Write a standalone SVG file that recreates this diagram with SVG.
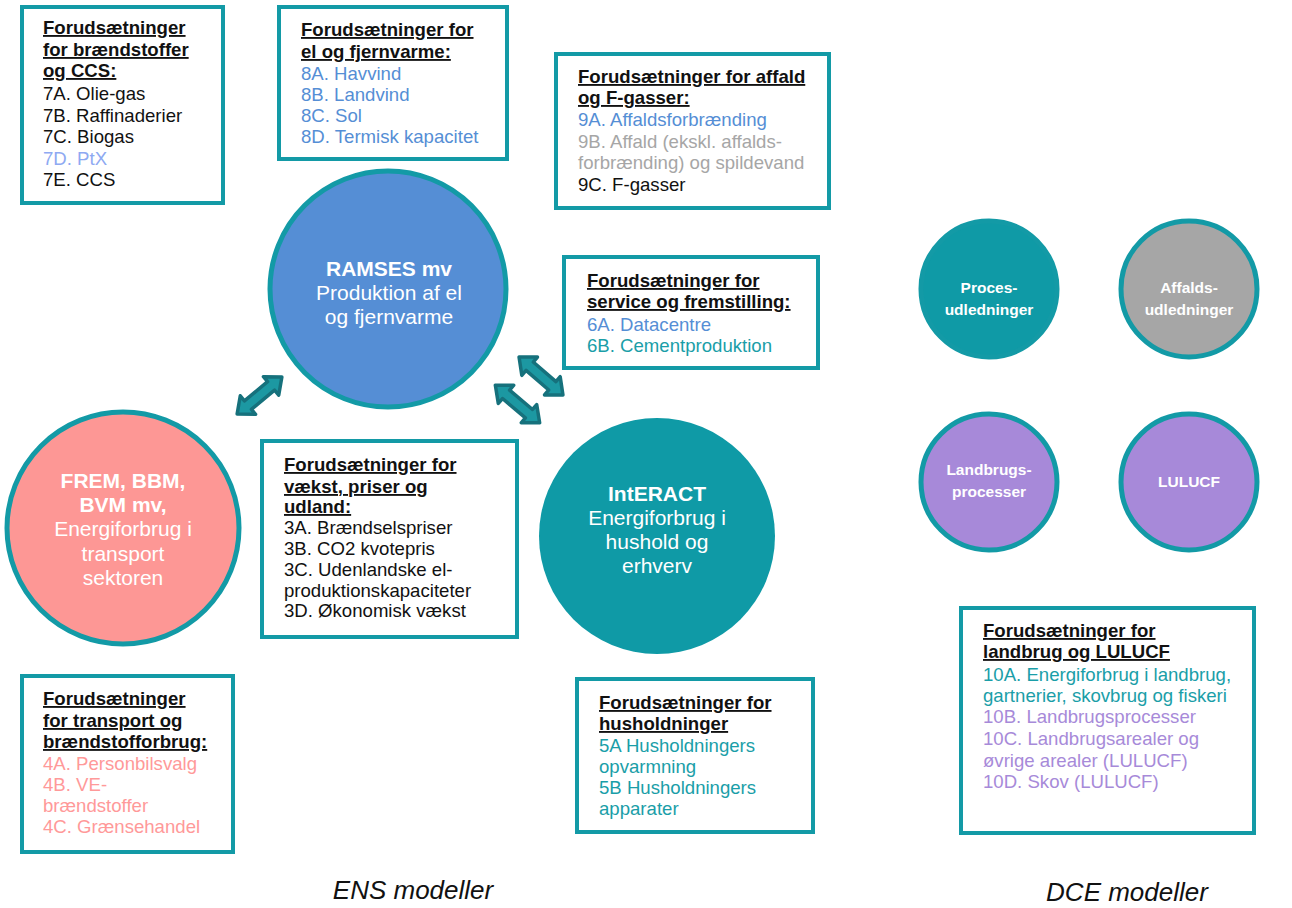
<svg xmlns="http://www.w3.org/2000/svg" width="1292" height="908" viewBox="0 0 1292 908">
<defs>
<style>
.box{fill:#fff;stroke:#139aa6;stroke-width:4}
.t{font-family:"Liberation Sans",Arial,sans-serif;font-size:18.6px;fill:#111}
.h{font-weight:bold;text-decoration:underline}
.blue{fill:#558ed5}
.lblue{fill:#8ea9f2}
.grey{fill:#a6a6a6}
.teal{fill:#1a9ea8}
.pink{fill:#ff9999}
.purple{fill:#a78ad9}
.ct{font-family:"Liberation Sans",Arial,sans-serif;font-size:21px;fill:#fff;text-anchor:middle}
.dt{font-family:"Liberation Sans",Arial,sans-serif;font-size:15.5px;fill:#fff;text-anchor:middle;font-weight:bold}
.b{font-weight:bold}
.circ{stroke:#139aa6;stroke-width:5}
.arr{fill:#1c98a2;stroke:#16717c;stroke-width:3.5;stroke-linejoin:round}
.cap{font-family:"Liberation Sans",Arial,sans-serif;font-size:26px;font-style:italic;fill:#111;text-anchor:middle}
</style>
<polygon id="dbl" class="arr" points="-29,0 -15,-12 -15,-5.5 15,-5.5 15,-12 29,0 15,12 15,5.5 -15,5.5 -15,12"/>
</defs>
<rect width="1292" height="908" fill="#fff"/>

<g id="box-fuels">
<rect class="box" x="22" y="7" width="201" height="196"/>
<text class="t"><tspan class="h" x="43" y="34">Forudsætninger</tspan><tspan class="h" x="43" y="56">for brændstoffer</tspan><tspan class="h" x="43" y="77">og CCS:</tspan><tspan x="43" y="100">7A. Olie-gas</tspan><tspan x="43" y="122">7B. Raffinaderier</tspan><tspan x="43" y="143">7C. Biogas</tspan><tspan class="lblue" x="43" y="165">7D. PtX</tspan><tspan x="43" y="186">7E. CCS</tspan></text>
</g>

<g id="box-el">
<rect class="box" x="279" y="7" width="228" height="152"/>
<text class="t"><tspan class="h" x="301" y="36">Forudsætninger for</tspan><tspan class="h" x="301" y="58">el og fjernvarme:</tspan><tspan class="blue" x="301" y="80">8A. Havvind</tspan><tspan class="blue" x="301" y="101">8B. Landvind</tspan><tspan class="blue" x="301" y="122">8C. Sol</tspan><tspan class="blue" x="301" y="143">8D. Termisk kapacitet</tspan></text>
</g>

<g id="box-affald">
<rect class="box" x="556" y="54" width="273" height="154"/>
<text class="t"><tspan class="h" x="578" y="83">Forudsætninger for affald</tspan><tspan class="h" x="578" y="104">og F-gasser:</tspan><tspan class="blue" x="578" y="126">9A. Affaldsforbrænding</tspan><tspan class="grey" x="578" y="148">9B. Affald (ekskl. affalds-</tspan><tspan class="grey" x="578" y="169">forbrænding) og spildevand</tspan><tspan x="578" y="191">9C. F-gasser</tspan></text>
</g>

<g id="box-service">
<rect class="box" x="564" y="257" width="254" height="111"/>
<text class="t"><tspan class="h" x="587" y="287">Forudsætninger for</tspan><tspan class="h" x="587" y="308">service og fremstilling:</tspan><tspan class="blue" x="587" y="331">6A. Datacentre</tspan><tspan class="teal" x="587" y="352">6B. Cementproduktion</tspan></text>
</g>

<g id="box-vaekst">
<rect class="box" x="262" y="441" width="255" height="196"/>
<text class="t"><tspan class="h" x="284" y="471">Forudsætninger for</tspan><tspan class="h" x="284" y="493">vækst, priser og</tspan><tspan class="h" x="284" y="513">udland:</tspan><tspan x="284" y="534">3A. Brændselspriser</tspan><tspan x="284" y="555">3B. CO2 kvotepris</tspan><tspan x="284" y="576">3C. Udenlandske el-</tspan><tspan x="284" y="597">produktionskapaciteter</tspan><tspan x="284" y="617">3D. Økonomisk vækst</tspan></text>
</g>

<g id="box-transport">
<rect class="box" x="22" y="676" width="211" height="176"/>
<text class="t"><tspan class="h" x="43" y="705">Forudsætninger</tspan><tspan class="h" x="43" y="727">for transport og</tspan><tspan class="h" x="43" y="748">brændstofforbrug:</tspan><tspan class="pink" x="43" y="770">4A. Personbilsvalg</tspan><tspan class="pink" x="43" y="791">4B. VE-</tspan><tspan class="pink" x="43" y="812">brændstoffer</tspan><tspan class="pink" x="43" y="833">4C. Grænsehandel</tspan></text>
</g>

<g id="box-husholdninger">
<rect class="box" x="577" y="679" width="236" height="153"/>
<text class="t"><tspan class="h" x="599" y="709">Forudsætninger for</tspan><tspan class="h" x="599" y="730">husholdninger</tspan><tspan class="teal" x="599" y="752">5A Husholdningers</tspan><tspan class="teal" x="599" y="773">opvarmning</tspan><tspan class="teal" x="599" y="794">5B Husholdningers</tspan><tspan class="teal" x="599" y="815">apparater</tspan></text>
</g>

<g id="box-landbrug">
<rect class="box" x="961" y="608" width="293" height="225"/>
<text class="t"><tspan class="h" x="983" y="637">Forudsætninger for</tspan><tspan class="h" x="983" y="658">landbrug og LULUCF</tspan><tspan class="teal" x="983" y="681">10A. Energiforbrug i landbrug,</tspan><tspan class="teal" x="983" y="702">gartnerier, skovbrug og fiskeri</tspan><tspan class="purple" x="983" y="723">10B. Landbrugsprocesser</tspan><tspan class="purple" x="983" y="745">10C. Landbrugsarealer og</tspan><tspan class="purple" x="983" y="767">øvrige arealer (LULUCF)</tspan><tspan class="purple" x="983" y="788">10D. Skov (LULUCF)</tspan></text>
</g>

<g id="node-ramses">
<circle class="circ" cx="388" cy="289" r="118" fill="#558ed5"/>
<text class="ct"><tspan class="b" x="389" y="276">RAMSES mv</tspan><tspan x="389" y="300">Produktion af el</tspan><tspan x="389" y="324">og fjernvarme</tspan></text>
</g>

<g id="node-frem">
<circle class="circ" cx="123" cy="528" r="116" fill="#fd9795"/>
<text class="ct"><tspan class="b" x="123" y="488">FREM, BBM,</tspan><tspan class="b" x="123" y="512">BVM mv,</tspan><tspan x="123" y="536">Energiforbrug i</tspan><tspan x="123" y="561">transport</tspan><tspan x="123" y="585">sektoren</tspan></text>
</g>

<g id="node-interact">
<circle cx="657" cy="536" r="118" fill="#0f9aa6"/>
<text class="ct"><tspan class="b" x="657" y="501">IntERACT</tspan><tspan x="657" y="525">Energiforbrug i</tspan><tspan x="657" y="549">hushold og</tspan><tspan x="657" y="573">erhverv</tspan></text>
</g>

<g id="node-proces">
<circle class="circ" cx="989" cy="289" r="68" fill="#0f9aa6"/>
<text class="dt"><tspan x="989" y="293">Proces-</tspan><tspan x="989" y="315">udledninger</tspan></text>
</g>

<g id="node-affald">
<circle class="circ" cx="1189" cy="289" r="68" fill="#a6a6a6"/>
<text class="dt"><tspan x="1189" y="293">Affalds-</tspan><tspan x="1189" y="315">udledninger</tspan></text>
</g>

<g id="node-landbrug">
<circle class="circ" cx="989" cy="482" r="68" fill="#a789d9"/>
<text class="dt"><tspan x="989" y="475">Landbrugs-</tspan><tspan x="989" y="497">processer</tspan></text>
</g>

<g id="node-lulucf">
<circle class="circ" cx="1189" cy="482" r="68" fill="#a789d9"/>
<text class="dt"><tspan x="1189" y="487">LULUCF</tspan></text>
</g>

<g id="connectors">
<use href="#dbl" transform="translate(259.5,395.5) rotate(-39.5)"/>
<use href="#dbl" transform="translate(541,376) rotate(40.8)"/>
<use href="#dbl" transform="translate(517.5,404) rotate(40.2)"/>
</g>

<g id="captions">
<text class="cap" x="413" y="899">ENS modeller</text>
<text class="cap" x="1127" y="901">DCE modeller</text>
</g>
</svg>
